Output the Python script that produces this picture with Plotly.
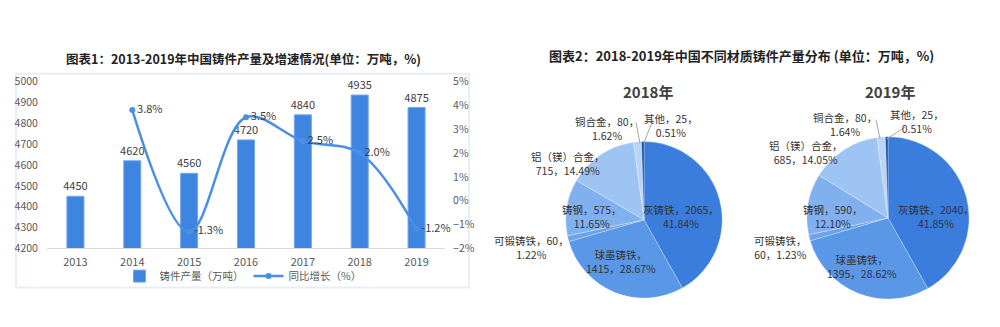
import plotly.graph_objects as go

# ---------------- data ----------------
years = ["2013", "2014", "2015", "2016", "2017", "2018", "2019"]
output_wt = [4450, 4620, 4560, 4720, 4840, 4935, 4875]          # 万吨
growth_pct = [None, 3.8, -1.3, 3.5, 2.5, 2.0, -1.2]              # %

materials = ["灰铸铁", "球墨铸铁", "可锻铸铁", "铸钢", "铝（镁）合金", "铜合金", "其他"]
vals_2018 = [2065, 1415, 60, 575, 715, 80, 25]
pct_2018 = ["41.84%", "28.67%", "1.22%", "11.65%", "14.49%", "1.62%", "0.51%"]
vals_2019 = [2040, 1395, 60, 590, 685, 80, 25]
pct_2019 = ["41.85%", "28.62%", "1.23%", "12.10%", "14.05%", "1.64%", "0.51%"]
# where the label line break goes: 0 = after name, 1 = after value
brk_2018 = [1, 0, 1, 1, 0, 1, 1]
brk_2019 = [1, 0, 0, 1, 0, 1, 1]

W, H = 1000, 327
FONT = "Noto Sans CJK SC"
BAR_C = "#3d85e0"
LINE_C = "#4a8fe6"
slice_colors = ["#3a7ddc", "#5a97e6", "#6da3ea", "#80b0ee", "#9ec4f3", "#b9d4f6", "#1f4f9e"]

# label anchor positions (pixels) for each pie slice label
lab_pos_2018 = [(681, 218), (621, 266), (531, 251), (591, 218), (568, 163), (607, 126), (671, 123)]
lab_pos_2019 = [(936, 218), (862, 271), (780, 251), (832, 218), (806, 151), (845, 122), (917, 119)]
# leader lines for the tiny slices: (x0, y0, x1, y1) pixels
leaders = [(636, 120, 640, 142), (652, 120, 644, 141),
           (876, 117, 880, 137), (905, 125, 887, 137)]


def px_x(x):
    return x / W


def px_y(y):
    return 1 - y / H


def pie_text(names, vals, pcts, brk):
    out = []
    for n, v, p, b in zip(names, vals, pcts, brk):
        if b == 0:
            out.append(f"{n}，<br>{v}，{p}")
        else:
            out.append(f"{n}，{v}，<br>{p}")
    return out


fig = go.Figure()

# ---------------- left chart ----------------
fig.add_trace(go.Bar(
    x=years, y=output_wt, name="铸件产量（万吨）",
    marker=dict(color=BAR_C, line=dict(color="#76a8ec", width=1)),
    text=[str(v) for v in output_wt], textposition="outside",
    constraintext="none",
    textfont=dict(size=11, color="#404040", family=FONT),
    cliponaxis=False,
    xaxis="x", yaxis="y",
))
fig.add_trace(go.Scatter(
    x=years, y=growth_pct, name="同比增长（%）",
    mode="lines+markers+text",
    line=dict(color=LINE_C, width=2.5, shape="spline", smoothing=1.0),
    marker=dict(size=6, color=LINE_C),
    text=[("" if g is None else f"{g:.1f}%") for g in growth_pct],
    textposition="middle right",
    textfont=dict(size=11, color="#404040", family=FONT),
    cliponaxis=False,
    xaxis="x", yaxis="y2",
))

# ---------------- pies ----------------
def pie_domain(cx, cy, r):
    return dict(x=[px_x(cx - r), px_x(cx + r)], y=[px_y(cy + r), px_y(cy - r)])


annotations = []
for vals, pcts, brk, dom, pos in [
    (vals_2018, pct_2018, brk_2018, pie_domain(644, 222, 82), lab_pos_2018),
    (vals_2019, pct_2019, brk_2019, pie_domain(888, 220, 85), lab_pos_2019),
]:
    fig.add_trace(go.Pie(
        labels=materials, values=vals,
        textinfo="none",
        sort=False, direction="clockwise", rotation=0,
        marker=dict(colors=slice_colors, line=dict(color="rgba(255,255,255,0.35)", width=0.8)),
        domain=dom, showlegend=False, hoverinfo="label+value",
    ))
    for t, (lx, ly) in zip(pie_text(materials, vals, pcts, brk), pos):
        annotations.append(dict(
            text=t, x=px_x(lx), y=px_y(ly), xref="paper", yref="paper",
            showarrow=False, xanchor="center", yanchor="middle", align="center",
            font=dict(size=10.5, color="#333333", family=FONT)))

shapes = [dict(type="rect", xref="paper", yref="paper",
               x0=px_x(16), x1=px_x(469), y0=px_y(293), y1=px_y(69),
               line=dict(color="#e8eef8", width=2), layer="below")]
for x0, y0, x1, y1 in leaders:
    shapes.append(dict(type="line", xref="paper", yref="paper",
                       x0=px_x(x0), y0=px_y(y0), x1=px_x(x1), y1=px_y(y1),
                       line=dict(color="#a6a6a6", width=1)))

annotations += [
    dict(text="<b>图表1：2013-2019年中国铸件产量及增速情况(单位：万吨，%)</b>",
         x=px_x(243), y=px_y(53), xref="paper", yref="paper", showarrow=False,
         xanchor="center", yanchor="middle", font=dict(size=12.5, color="#222222")),
    dict(text="<b>图表2：2018-2019年中国不同材质铸件产量分布 (单位：万吨，%)</b>",
         x=px_x(741), y=px_y(50), xref="paper", yref="paper", showarrow=False,
         xanchor="center", yanchor="middle", font=dict(size=13, color="#222222")),
    dict(text="<b>2018年</b>", x=px_x(648), y=px_y(87), xref="paper", yref="paper",
         showarrow=False, xanchor="center", yanchor="middle",
         font=dict(size=15, color="#404040")),
    dict(text="<b>2019年</b>", x=px_x(890), y=px_y(87), xref="paper", yref="paper",
         showarrow=False, xanchor="center", yanchor="middle",
         font=dict(size=15, color="#404040")),
]

fig.update_layout(
    width=W, height=H,
    margin=dict(l=0, r=0, t=0, b=0),
    paper_bgcolor="white", plot_bgcolor="white",
    font=dict(family=FONT, color="#595959", size=11),
    bargap=0.7,
    xaxis=dict(domain=[px_x(47), px_x(445)], type="category",
               showline=True, linecolor="#d9d9d9", linewidth=1,
               showgrid=False, zeroline=False,
               ticks="outside", ticklen=3, tickcolor="rgba(0,0,0,0)",
               tickfont=dict(size=11, color="#595959")),
    yaxis=dict(domain=[px_y(252), px_y(77)], range=[4200, 5000], dtick=100,
               showgrid=False, zeroline=False, showline=False,
               ticks="outside", ticklen=6, tickcolor="rgba(0,0,0,0)",
               tickfont=dict(size=10.5, color="#595959")),
    yaxis2=dict(overlaying="y", side="right", range=[-2, 5], dtick=1,
                ticksuffix="%", showgrid=False, zeroline=False, showline=False,
                ticks="outside", ticklen=5, tickcolor="rgba(0,0,0,0)",
                tickfont=dict(size=10.5, color="#595959")),
    legend=dict(orientation="h", x=px_x(243), y=px_y(281), xanchor="center", yanchor="middle",
                font=dict(size=10.5, color="#595959"), itemwidth=30, tracegroupgap=0,
                bgcolor="rgba(0,0,0,0)"),
    shapes=shapes,
    annotations=annotations,
)

fig.write_html("out.html")
